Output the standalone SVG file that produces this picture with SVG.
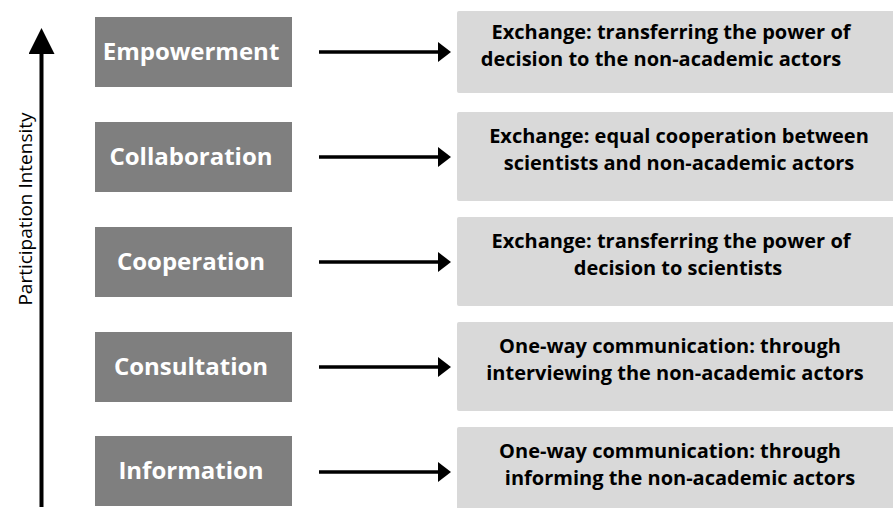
<svg xmlns="http://www.w3.org/2000/svg" width="893" height="508" viewBox="0 0 893 508">
  <style>
    .level rect { fill: #7f7f7f; }
    .level text { fill: #ffffff; font-family: "Open Sans", "Liberation Sans", sans-serif; font-weight: bold; font-size: 24px; text-anchor: middle; }
    .desc rect { fill: #d9d9d9; }
    .desc text { fill: #000000; font-family: "Open Sans", "Liberation Sans", sans-serif; font-weight: bold; font-size: 20px; text-anchor: middle; }
    .axis-label { fill: #000000; font-family: "Open Sans", "Liberation Sans", sans-serif; font-size: 19px; text-anchor: middle; }
    .conn line { stroke: #000000; }
  </style>
  <defs>
    <marker id="headSmall" markerUnits="userSpaceOnUse" markerWidth="13" markerHeight="20" refX="2" refY="10" orient="auto">
      <path d="M0,0 L13,10 L0,20 Z" fill="#000000"/>
    </marker>
    <marker id="headLarge" markerUnits="userSpaceOnUse" markerWidth="26" markerHeight="26" refX="2" refY="13" orient="auto">
      <path d="M0,0 L26,13 L0,26 Z" fill="#000000"/>
    </marker>
  </defs>

  <rect width="893" height="508" fill="#ffffff"/>

  <!-- intensity axis -->
  <text class="axis-label" transform="translate(32,209) rotate(-90)">Participation Intensity</text>

  <!-- participation levels -->
  <g id="empowerment" class="level">
    <rect x="95" y="17" width="197" height="70"/>
    <text x="191" y="60">Empowerment</text>
  </g>
  <g id="collaboration" class="level">
    <rect x="95" y="122" width="197" height="70"/>
    <text x="191" y="165">Collaboration</text>
  </g>
  <g id="cooperation" class="level">
    <rect x="95" y="227" width="197" height="70"/>
    <text x="191" y="270">Cooperation</text>
  </g>
  <g id="consultation" class="level">
    <rect x="95" y="332" width="197" height="70"/>
    <text x="191" y="375">Consultation</text>
  </g>
  <g id="information" class="level">
    <rect x="95" y="436" width="197" height="70"/>
    <text x="191" y="479">Information</text>
  </g>

  <!-- descriptions -->
  <g id="desc-empowerment" class="desc">
    <rect x="457" y="11" width="440" height="82" rx="2"/>
    <text x="671" y="39">Exchange: transferring the power of</text>
    <text x="661" y="66">decision to the non-academic actors</text>
  </g>
  <g id="desc-collaboration" class="desc">
    <rect x="457" y="112" width="440" height="89" rx="2"/>
    <text x="679" y="143">Exchange: equal cooperation between</text>
    <text x="679" y="170">scientists and non-academic actors</text>
  </g>
  <g id="desc-cooperation" class="desc">
    <rect x="457" y="217" width="440" height="89" rx="2"/>
    <text x="671" y="248">Exchange: transferring the power of</text>
    <text x="678" y="275">decision to scientists</text>
  </g>
  <g id="desc-consultation" class="desc">
    <rect x="457" y="322" width="440" height="89" rx="2"/>
    <text x="670" y="353">One-way communication: through</text>
    <text x="675" y="380">interviewing the non-academic actors</text>
  </g>
  <g id="desc-information" class="desc">
    <rect x="457" y="427" width="440" height="89" rx="2"/>
    <text x="670" y="458">One-way communication: through</text>
    <text x="680" y="485">informing the non-academic actors</text>
  </g>

  <!-- connectors -->
  <g id="connectors" class="conn">
    <line x1="41.5" y1="507" x2="41.5" y2="52" stroke-width="4" marker-end="url(#headLarge)"/>
    <line x1="319" y1="52" x2="440" y2="52" stroke-width="3.5" marker-end="url(#headSmall)"/>
    <line x1="319" y1="157" x2="440" y2="157" stroke-width="3.5" marker-end="url(#headSmall)"/>
    <line x1="319" y1="262" x2="440" y2="262" stroke-width="3.5" marker-end="url(#headSmall)"/>
    <line x1="319" y1="367" x2="440" y2="367" stroke-width="3.5" marker-end="url(#headSmall)"/>
    <line x1="319" y1="472" x2="440" y2="472" stroke-width="3.5" marker-end="url(#headSmall)"/>
  </g>
</svg>
